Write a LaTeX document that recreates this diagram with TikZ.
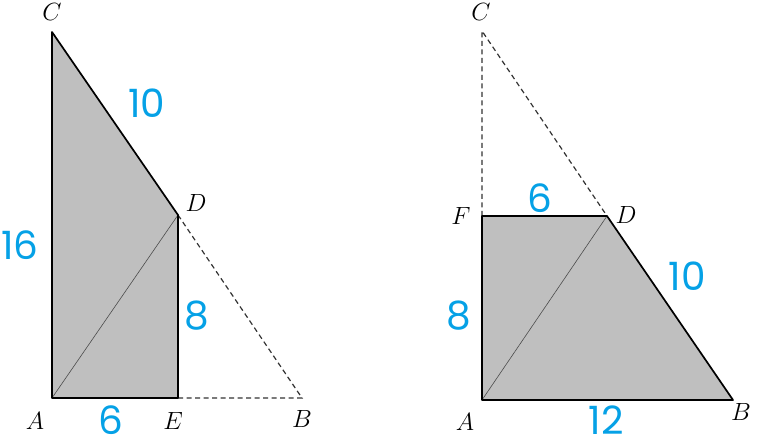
\documentclass[tikz,border=0pt]{standalone}
\usepackage{fontspec}
\setsansfont{Poppins}
\usepackage{tikz}
\usetikzlibrary{positioning}

\begin{document}
\begin{tikzpicture}[
x=1pt,y=-1pt,
edge/.style={
  draw=black,
  line width=1.7pt,
  line join=round
  },
thin/.style={
  draw=black!70,
  line width=0.6pt
  },
hidden/.style={
  draw=black!80,
  line width=1.2pt,
  dash pattern=on 5pt off 3.5pt
  },
area/.style={
  fill=black!25
  },
pt/.style={
  inner sep=0pt,
  font=\fontsize{23}{23}\selectfont
  },
len/.style={
  inner sep=0pt,
  text=cyan!90!blue,
  font=\sffamily\fontsize{39}{39}\selectfont
  }
]
\useasboundingbox (0,0) rectangle (778,443);

% left figure
\coordinate (lA) at (52,398);
\coordinate (lE) at (178,398);
\coordinate (lB) at (302,398);
\coordinate (lC) at (52,32);
\coordinate (lD) at (178,215);

\fill[area] (lA) -- (lE) -- (lD) -- (lC) -- cycle;
\draw[thin] (lA) -- (lD);
\draw[hidden] (lD) -- (lB) -- (lE);
\draw[edge] (lC) -- (lA) -- (lE) -- (lD) -- cycle;

\node[pt] (lnA) at (35,421) {$A$};
\node[pt] (lnE) at (173,421) {$E$};
\node[pt] (lnB) at (302,419) {$B$};
\node[pt] (lnC) at (52,12) {$C$};
\node[pt] (lnD) at (196,203) {$D$};

\node[len] (lCD) at (147,103) {10};
\node[len] (lCA) at (20,245) {16};
\node[len] (lED) at (197,316) {8};
\node[len] (lAE) at (111,420) {6};

% right figure
\coordinate (rA) at (482,400);
\coordinate (rB) at (733,400);
\coordinate (rC) at (482,31);
\coordinate (rF) at (482,216);
\coordinate (rD) at (607,216);

\fill[area] (rA) -- (rB) -- (rD) -- (rF) -- cycle;
\draw[thin] (rA) -- (rD);
\draw[hidden] (rF) -- (rC) -- (rD);
\draw[edge] (rF) -- (rA) -- (rB) -- (rD) -- cycle;

\node[pt] (rnA) at (465,422) {$A$};
\node[pt] (rnB) at (741,412) {$B$};
\node[pt] (rnC) at (481,12) {$C$};
\node[pt] (rnF) at (461,216) {$F$};
\node[pt] (rnD) at (626,215) {$D$};

\node[len] (rFD) at (540,198) {6};
\node[len] (rDB) at (687,276) {10};
\node[len] (rAF) at (459,316) {8};
\node[len] (rAB) at (606,420) {12};
\end{tikzpicture}
\end{document}
